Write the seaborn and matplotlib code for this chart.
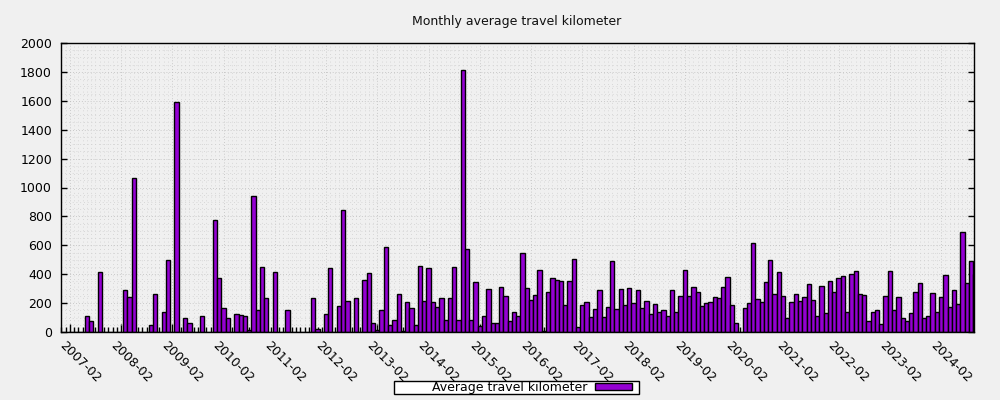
import numpy as np
import pandas as pd
import matplotlib
matplotlib.use("Agg")
import matplotlib.pyplot as plt
import matplotlib.transforms as mtransforms
from matplotlib.patches import Patch, Rectangle
from matplotlib.ticker import MultipleLocator, FixedLocator
import seaborn as sns

# ---- data: monthly average travel kilometer, starting 2007-02 ----
start_year = 2007
start_month = 2
km = [
    0, 0, 0, 0, 108, 78, 0, 418, 0, 0, 0, 0,            # 2007-02 .. 2008-01
    0, 293, 245, 1068, 0, 0, 0, 46, 265, 0, 141, 500,    # 2008-02 .. 2009-01
    0, 1590, 0, 99, 65, 0, 0, 113, 0, 0, 773, 376,       # 2009-02 .. 2010-01
    164, 95, 0, 127, 120, 113, 16, 944, 155, 452, 238, 0,  # 2010-02 .. 2011-01
    418, 0, 0, 155, 0, 0, 0, 0, 0, 233, 21, 0,           # 2011-02 .. 2012-01
    127, 441, 0, 178, 847, 217, 0, 233, 0, 358, 408, 62,  # 2012-02 .. 2013-01
    16, 155, 591, 48, 83, 265, 9, 208, 168, 48, 459, 217,  # 2013-02 .. 2014-01
    445, 208, 175, 233, 85, 233, 452, 85, 1816, 577, 85, 348,  # 2014-02 .. 2015-01
    44, 108, 300, 65, 65, 314, 251, 78, 141, 113, 549, 305,  # 2015-02 .. 2016-01
    224, 256, 427, 10, 279, 376, 362, 355, 187, 355, 508, 37,  # 2016-02 .. 2017-01
    187, 210, 106, 161, 293, 106, 175, 494, 161, 300, 187, 307,  # 2017-02 .. 2018-01
    203, 293, 166, 217, 125, 194, 138, 155, 111, 288, 141, 251,  # 2018-02 .. 2019-01
    430, 251, 311, 278, 182, 203, 210, 245, 238, 314, 383, 187,  # 2019-02 .. 2020-01
    65, 0, 168, 203, 618, 231, 210, 348, 501, 265, 418, 251,  # 2020-02 .. 2021-01
    99, 210, 265, 217, 245, 335, 224, 113, 321, 134, 355, 279,  # 2021-02 .. 2022-01
    376, 390, 141, 404, 424, 265, 258, 78, 141, 155, 58, 251,  # 2022-02 .. 2023-01
    420, 155, 245, 99, 78, 134, 279, 341, 99, 113, 272, 141,  # 2023-02 .. 2024-01
    245, 397, 175, 293, 196, 694, 341, 494, 404,          # 2024-02 .. 2024-10
]
tick_labels = [f"{y}-02" for y in range(2007, 2025)]
series_name = "Average travel kilometer"
title = "Monthly average travel kilometer"

month_idx = np.arange(len(km))
df = pd.DataFrame({"month": month_idx, "km": km})

bar_color = "#9400D3"
bg = "#f0f0f0"

plt.rcParams["font.family"] = ["DejaVu Sans"]
fig = plt.figure(figsize=(10, 4), dpi=100, facecolor=bg)
ax = fig.add_axes([0.061, 0.17, 0.913, 0.7225])
ax.set_facecolor(bg)

sns.barplot(data=df, x="month", y="km", native_scale=True, width=1.0,
            color=bar_color, saturation=1, edgecolor="black", linewidth=1.0,
            errorbar=None, ax=ax)

ax.set_xlim(-2.06, 211.7)
ax.set_ylim(0, 2000)
ax.set_xlabel("")
ax.set_ylabel("")

# ticks
ax.xaxis.set_major_locator(FixedLocator(np.arange(0, len(tick_labels) * 12, 12)))
ax.set_xticklabels(tick_labels)
ax.xaxis.set_minor_locator(MultipleLocator(1))
ax.yaxis.set_major_locator(MultipleLocator(200))
ax.yaxis.set_minor_locator(MultipleLocator(50))

ax.tick_params(axis="x", which="major", direction="in", length=6, width=1,
               labelsize=9, pad=5, top=False)
ax.tick_params(axis="x", which="minor", direction="in", length=3.5, width=1,
               top=False)
ax.tick_params(axis="y", which="major", direction="in", length=4.5, width=1,
               labelsize=9, pad=6.5, right=True)
ax.tick_params(axis="y", which="minor", length=0, right=False)

offset = mtransforms.ScaledTranslation(-4 / 100, 0, fig.dpi_scale_trans)
for lab in ax.get_xticklabels():
    lab.set_rotation(-45)
    lab.set_ha("left")
    lab.set_va("top")
    lab.set_rotation_mode("anchor")
    lab.set_transform(lab.get_transform() + offset)

# grid
ax.set_axisbelow(True)
ax.grid(which="major", axis="both", color="#bdbdbd", linestyle=(0, (1, 2.5)), linewidth=0.6)
ax.grid(which="minor", axis="both", color="#cfcfcf", linestyle=(0, (1, 3.5)), linewidth=0.6)

for s in ax.spines.values():
    s.set_color("black")
    s.set_linewidth(1.0)

fig.text(0.517, 0.945, title, ha="center", va="center", fontsize=9, color="#111111")

# legend box
fig.patches.append(Rectangle((0.394, 0.0155), 0.245, 0.0325, transform=fig.transFigure,
                             facecolor="white", edgecolor="black", linewidth=1.0, zorder=1))
handle = Patch(facecolor=bar_color, edgecolor="black", linewidth=1.0)
leg = fig.legend(handles=[handle], labels=[series_name], loc="center right",
                 bbox_to_anchor=(0.632, 0.0315), frameon=False, markerfirst=False,
                 fontsize=9, handlelength=2.95, handleheight=0.48, handletextpad=0.65,
                 borderpad=0, borderaxespad=0)
leg.set_zorder(2)

fig.savefig("out.png", dpi=100, facecolor=bg)
